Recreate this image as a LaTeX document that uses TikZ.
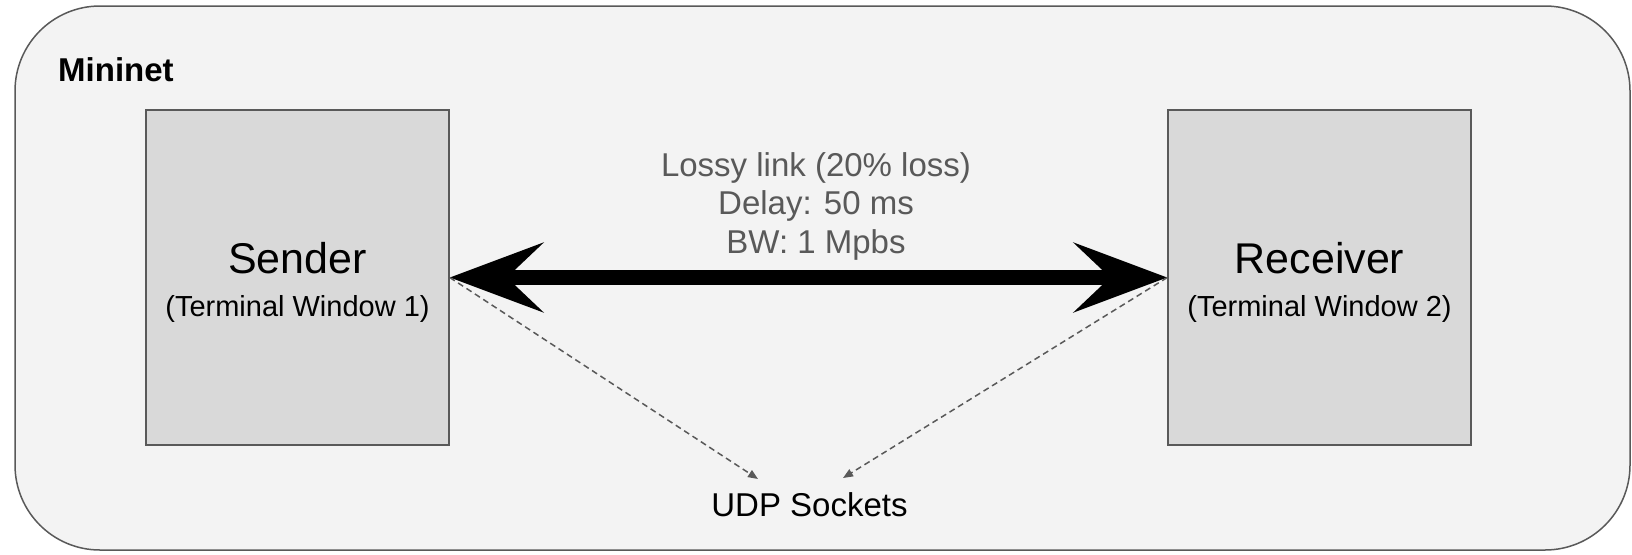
\documentclass[tikz,border=0pt]{standalone}
\usepackage{fontspec}
\setmainfont{Liberation Sans}
\setsansfont{Liberation Sans}
\usetikzlibrary{arrows.meta, positioning}

\definecolor{framegray}{HTML}{595959}
\definecolor{netfill}{HTML}{F3F3F3}
\definecolor{hostfill}{HTML}{D9D9D9}

\begin{document}
\begin{tikzpicture}[
			x=1pt, y=-1pt,
			font=\sffamily,
			every node/.style={anchor=center, text centered, inner sep=0pt},
			terminal/.style={draw=framegray, line width=1.5pt, fill=hostfill, minimum width=303pt, minimum height=335pt},
			hostname/.style={align=center, font=\sffamily\fontsize{43}{43}\selectfont},
			note/.style={align=center, text=framegray, font=\sffamily\fontsize{33}{38.5}\selectfont},
			link/.style={{Stealth[length=93pt, width=69pt, inset=36pt]}-{Stealth[length=93pt, width=69pt, inset=36pt]}, line width=15pt},
			to/.style={-{Triangle[length=10pt, width=8pt]}, dash pattern=on 6pt off 4pt, line width=1.5pt, color=framegray}
			]
			
			\useasboundingbox (0,0) rectangle (1632,554);
			\draw[draw=framegray, line width=1.5pt, fill=netfill, rounded corners=85pt] (15,6) rectangle (1630,550);
			\node[anchor=base west, font=\sffamily\bfseries\fontsize{33}{33}\selectfont] (mininet) at (58,81) {Mininet};
			
			\node[terminal] (sender) at (297.5,277.5) {};
			\node[terminal] (receiver) at (1319.5,277.5) {};
			\node[hostname] (sender name) at ([yshift=-4.5pt]sender.center) {Sender\\\fontsize{29}{39}\selectfont (Terminal Window 1)};
			\node[hostname] (receiver name) at ([yshift=-4.5pt]receiver.center) {Receiver\\\fontsize{29}{39}\selectfont (Terminal Window 2)};
			
			\node[note] (loss) at (816,206) {Lossy link (20\% loss)\\Delay: 50 ms\\BW: 1 Mpbs};
			\node[font=\sffamily\fontsize{33}{33}\selectfont] (udp) at (809.5,505) {UDP Sockets};
			\coordinate (udp left) at (758,479);
			\coordinate (udp right) at (843,478);
			
			\draw[link] (sender.east) -- (receiver.west);
			\draw[to] (sender.east) -- (udp left);
			\draw[to] (receiver.west) -- (udp right);
			
\end{tikzpicture}
\end{document}
